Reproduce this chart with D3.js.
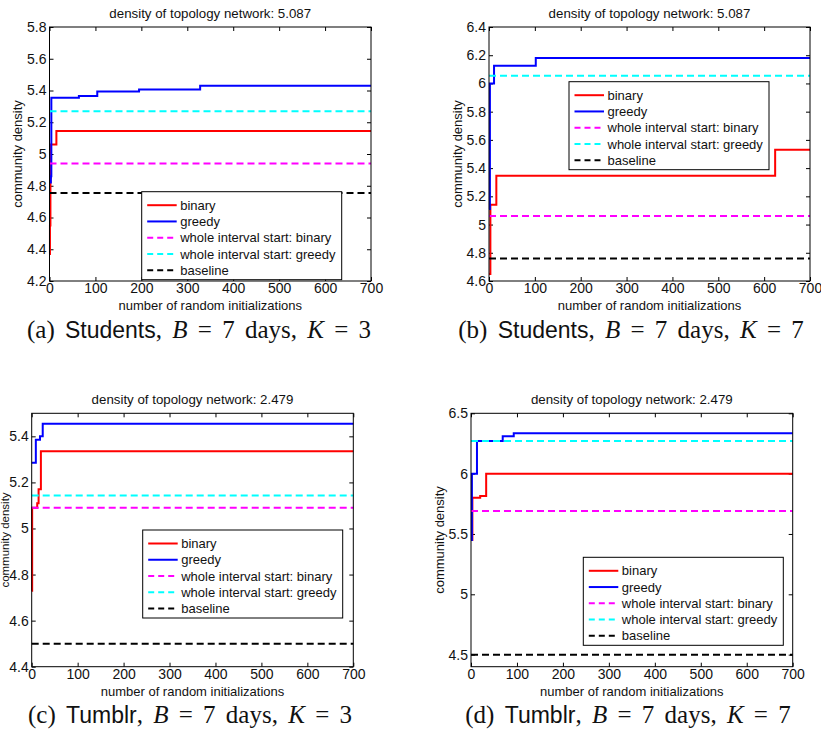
<!DOCTYPE html>
<html>
<head>
<meta charset="utf-8">
<script src="https://cdn.jsdelivr.net/npm/d3@7"></script>
<style>
  body { margin: 0; background: #fff; }
  svg { display: block; }
  text { fill: #111; }
</style>
</head>
<body>
<svg id="chart" width="821" height="744"></svg>
<script>
// ---- data ----
const xTicks = [0, 100, 200, 300, 400, 500, 600, 700];
const xDomain = [0, 700];

const legendLabels = ["binary", "greedy", "whole interval start: binary", "whole interval start: greedy", "baseline"];
const panelTitles = ["density of topology network: 5.087", "density of topology network: 5.087",
                     "density of topology network: 2.479", "density of topology network: 2.479"];
const captionLetters = ["(a)", "(b)", "(c)", "(d)"];
const captionDatasets = ["Students", "Students", "Tumblr", "Tumblr"];
const captionK = ["3", "7", "3", "7"];

const yDomains = [[4.2, 5.8], [4.6, 6.4], [4.4, 5.5], [4.4, 6.5]];
const yTicks = [
    [4.2, 4.4, 4.6, 4.8, 5, 5.2, 5.4, 5.6, 5.8],
    [4.6, 4.8, 5, 5.2, 5.4, 5.6, 5.8, 6, 6.2, 6.4],
    [4.4, 4.6, 4.8, 5, 5.2, 5.4],
    [4.5, 5, 5.5, 6, 6.5]
];

// running best, [initializations, density] at each change
const binaryA = [[0, 4.37], [1, 4.55], [2, 4.85], [3, 5.06], [15, 5.145], [700, 5.145]];
const greedyA = [[0, 4.82], [3, 4.86], [4, 5.355], [64, 5.365], [104, 5.393], [195, 5.407], [328, 5.43], [700, 5.43]];
const binaryB = [[0, 4.65], [3, 5.14], [16, 5.345], [624, 5.53], [700, 5.53]];
const greedyB = [[0, 5.11], [2, 6.0], [11, 6.125], [102, 6.18], [700, 6.18]];
const binaryC = [[0, 4.73], [1, 5.09], [12, 5.11], [15, 5.17], [20, 5.335], [700, 5.335]];
const greedyC = [[0, 5.285], [9, 5.385], [18, 5.40], [24, 5.455], [700, 5.455]];
const binaryD = [[0, 5.45], [3, 5.80], [20, 5.815], [33, 6.0], [700, 6.0]];
const greedyD = [[0, 5.45], [2, 6.0], [13, 6.27], [69, 6.31], [93, 6.335], [700, 6.335]];

const binarySeries = [binaryA, binaryB, binaryC, binaryD];
const greedySeries = [greedyA, greedyB, greedyC, greedyD];
const wholeBinary = [4.94, 5.06, 5.09, 5.69];
const wholeGreedy = [5.27, 6.055, 5.143, 6.27];
const baseline = [4.755, 4.76, 4.50, 4.50];

// ---- layout ----
const panels = [
    { left: 49.5, top: 27, right: 371, bottom: 281, legX: 141.7, legY: 191.7, capX: 199, capY: 338 },
    { left: 489, top: 27, right: 810, bottom: 281, legX: 569, legY: 81.7, capX: 631, capY: 338 },
    { left: 31.7, top: 413.3, right: 353.3, bottom: 666.7, legX: 142.7, legY: 530, capX: 190, capY: 723 },
    { left: 471, top: 413.3, right: 792.7, bottom: 666.7, legX: 583.3, legY: 557.3, capX: 628, capY: 723 }
];

const colors = ["#ff0000", "#0000ff", "#ff00ff", "#00ffff", "#000000"];
const dashes = [null, null, "7,4", "7,4", "7,4"];
const sans = "'Liberation Sans', Arial, Helvetica, sans-serif";
const serif = "'Liberation Serif', 'Times New Roman', serif";

const svg = d3.select("#chart");
const fmt = d => String(+d.toFixed(2));

function drawPanel(p, i) {
    const x = d3.scaleLinear().domain(xDomain).range([p.left, p.right]);
    const y = d3.scaleLinear().domain(yDomains[i]).range([p.bottom, p.top]);
    const g = svg.append("g");

    // axes with inward ticks on all four sides
    const tick = 4;
    const bottomAx = g.append("g").attr("transform", `translate(0,${p.bottom})`)
        .call(d3.axisBottom(x).tickValues(xTicks).tickSizeInner(-tick).tickSizeOuter(0).tickPadding(2).tickFormat(fmt));
    const topAx = g.append("g").attr("transform", `translate(0,${p.top})`)
        .call(d3.axisTop(x).tickValues(xTicks).tickSizeInner(-tick).tickSizeOuter(0).tickFormat(""));
    const leftAx = g.append("g").attr("transform", `translate(${p.left},0)`)
        .call(d3.axisLeft(y).tickValues(yTicks[i]).tickSizeInner(-tick).tickSizeOuter(0).tickPadding(3).tickFormat(fmt));
    const rightAx = g.append("g").attr("transform", `translate(${p.right},0)`)
        .call(d3.axisRight(y).tickValues(yTicks[i]).tickSizeInner(-tick).tickSizeOuter(0).tickFormat(""));
    [bottomAx, topAx, leftAx, rightAx].forEach(a => {
        a.select(".domain").remove();
        a.selectAll(".tick line").attr("stroke", "#000");
        a.selectAll("text").attr("font-family", sans).attr("font-size", 14).attr("fill", "#111");
    });

    // series
    const line = d3.line().x(d => x(d[0])).y(d => y(d[1])).curve(d3.curveStepAfter);
    const flat = v => [[xDomain[0], v], [xDomain[1], v]];
    const series = [binarySeries[i], greedySeries[i], flat(wholeBinary[i]), flat(wholeGreedy[i]), flat(baseline[i])];
    series.forEach((s, k) => {
        g.append("path").attr("d", line(s))
            .attr("fill", "none")
            .attr("stroke", colors[k])
            .attr("stroke-width", 2)
            .attr("stroke-dasharray", dashes[k]);
    });

    // box
    g.append("rect").attr("x", p.left).attr("y", p.top)
        .attr("width", p.right - p.left).attr("height", p.bottom - p.top)
        .attr("fill", "none").attr("stroke", "#000").attr("stroke-width", 1);

    // title and labels
    g.append("text").attr("x", (p.left + p.right) / 2).attr("y", p.top - 9)
        .attr("text-anchor", "middle").attr("font-family", sans).attr("font-size", 13.3)
        .text(panelTitles[i]);
    g.append("text").attr("x", (p.left + p.right) / 2).attr("y", p.bottom + 29)
        .attr("text-anchor", "middle").attr("font-family", sans).attr("font-size", 13)
        .text("number of random initializations");
    // rotated label: its baseline sits at this x, glyphs extend to the left
    const tight = p.left < 40;
    g.append("text")
        .attr("transform", `translate(${tight ? 9 : p.left - 27.5},${(p.top + p.bottom) / 2}) rotate(-90)`)
        .attr("text-anchor", "middle").attr("font-family", sans).attr("font-size", tight ? 11.5 : 13)
        .text("community density");

    // legend
    const lw = 200, lh = 88, rowH = 16.25;
    const leg = g.append("g").attr("transform", `translate(${p.legX},${p.legY})`);
    leg.append("rect").attr("width", lw).attr("height", lh)
        .attr("fill", "#fff").attr("stroke", "#000").attr("stroke-width", 1);
    legendLabels.forEach((lab, k) => {
        const cy = 13.5 + k * rowH;
        leg.append("line").attr("x1", 5.5).attr("x2", 35).attr("y1", cy).attr("y2", cy)
            .attr("stroke", colors[k]).attr("stroke-width", 2)
            .attr("stroke-dasharray", dashes[k] ? "6,4" : null);
        leg.append("text").attr("x", 38.5).attr("y", cy + 4.6)
            .attr("font-family", sans).attr("font-size", 13).text(lab);
    });

    // caption
    const cap = svg.append("text").attr("x", p.capX).attr("y", p.capY)
        .attr("text-anchor", "middle").attr("font-family", serif).attr("font-size", 25)
        .attr("word-spacing", 4);
    cap.append("tspan").text(captionLetters[i] + " ");
    cap.append("tspan").attr("font-family", sans).attr("font-size", 23).text(captionDatasets[i]);
    cap.append("tspan").text(", ");
    cap.append("tspan").attr("font-style", "italic").text("B");
    cap.append("tspan").text(" = 7 days, ");
    cap.append("tspan").attr("font-style", "italic").text("K");
    cap.append("tspan").text(" = " + captionK[i]);
}

panels.forEach(drawPanel);
</script>
</body>
</html>
